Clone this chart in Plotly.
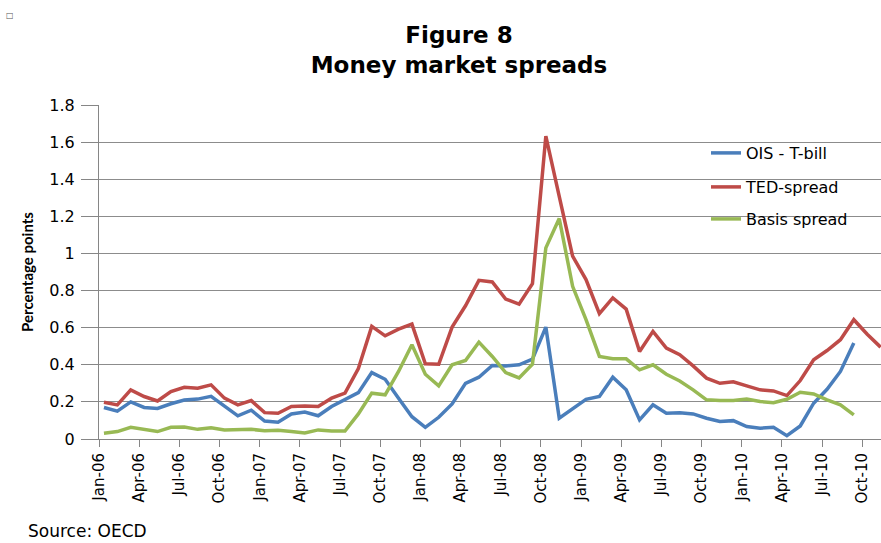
import plotly.graph_objects as go

# Monthly data, Jan-06 .. Nov-10
months = [f"{m}-{y:02d}" for y in range(6, 11)
          for m in ["Jan", "Feb", "Mar", "Apr", "May", "Jun",
                    "Jul", "Aug", "Sep", "Oct", "Nov", "Dec"]][:59]

ois_tbill = [0.17, 0.15, 0.20, 0.17, 0.165, 0.19, 0.21, 0.215, 0.23, 0.175,
             0.125, 0.155, 0.097, 0.09, 0.135, 0.145, 0.125, 0.175, 0.21, 0.25,
             0.358, 0.322, 0.22, 0.12, 0.063, 0.117, 0.189, 0.30, 0.333, 0.396,
             0.394, 0.40, 0.43, 0.603, 0.112, 0.162, 0.214, 0.229, 0.333, 0.265,
             0.103, 0.184, 0.139, 0.142, 0.135, 0.112, 0.094, 0.099, 0.067, 0.058,
             0.063, 0.018, 0.07, 0.193, 0.268, 0.364, 0.517, None, None]

ted_spread = [0.198, 0.184, 0.265, 0.229, 0.205, 0.256, 0.279, 0.274, 0.292, 0.22,
              0.184, 0.207, 0.142, 0.139, 0.175, 0.178, 0.175, 0.22, 0.247, 0.38,
              0.607, 0.556, 0.592, 0.619, 0.405, 0.403, 0.603, 0.718, 0.855, 0.846,
              0.754, 0.727, 0.837, 1.632, 1.308, 0.985, 0.859, 0.675, 0.76, 0.70,
              0.472, 0.58, 0.49, 0.454, 0.394, 0.328, 0.30, 0.308, 0.286, 0.265,
              0.259, 0.234, 0.315, 0.427, 0.477, 0.535, 0.643, 0.565, 0.495]

basis_spread = [0.031, 0.04, 0.063, 0.052, 0.04, 0.063, 0.065, 0.052, 0.061, 0.049,
                0.052, 0.052, 0.045, 0.047, 0.041, 0.032, 0.049, 0.043, 0.043, 0.135,
                0.247, 0.238, 0.364, 0.508, 0.349, 0.286, 0.40, 0.423, 0.522, 0.445,
                0.358, 0.329, 0.403, 1.03, 1.188, 0.823, 0.643, 0.445, 0.432, 0.432,
                0.373, 0.40, 0.349, 0.313, 0.265, 0.211, 0.207, 0.207, 0.216, 0.202,
                0.196, 0.214, 0.252, 0.243, 0.211, 0.184, 0.13, None, None]

tick_labels = months[0:58:3]

# points sit a little right of the month tick, as in the Excel chart
x = [i + 0.37 for i in range(len(months))]
tick_pos = list(range(0, 58, 3))

W, H = 881, 543
L, T, B = 99, 105, 104
PW, PH = W - L, H - T - B


def px(xp):
    return (xp - L) / PW


def py(yp):
    return (H - B - yp) / PH


fig = go.Figure()

series = [
    ("OIS - T-bill", ois_tbill, "#4A7EBB", "legend", 153),
    ("TED-spread", ted_spread, "#BE4B48", "legend2", 187),
    ("Basis spread", basis_spread, "#98B954", "legend3", 219),
]

for name, vals, color, leg, _ in series:
    fig.add_trace(go.Scatter(
        x=x, y=vals, mode="lines", name=name, legend=leg,
        line=dict(color=color, width=3.5),
        connectgaps=False,
    ))

legend_style = dict(
    xanchor="left", yanchor="middle", x=px(706),
    bgcolor="rgba(0,0,0,0)",
    font=dict(family="DejaVu Sans", size=16, color="#000000"),
)
fig.update_layout(
    legend=dict(y=py(series[0][4]), **legend_style),
    legend2=dict(y=py(series[1][4]), **legend_style),
    legend3=dict(y=py(series[2][4]), **legend_style),
)

fig.update_layout(
    width=W, height=H,
    margin=dict(l=L, r=0, t=T, b=B, autoexpand=False),
    paper_bgcolor="white",
    plot_bgcolor="white",
    showlegend=True,
    title=dict(
        text="<b>Figure 8<br>Money market spreads</b>",
        font=dict(family="DejaVu Sans", size=23, color="#000000"),
        xref="paper", x=px(459), xanchor="center",
        yref="container", y=1 - 43 / H, yanchor="middle",
    ),
)

fig.update_xaxes(
    range=[0, 58.4],
    tickmode="array", tickvals=tick_pos, ticktext=tick_labels,
    tickangle=-90,
    ticks="outside", ticklen=7, tickcolor="#868686",
    showline=True, linecolor="#868686", linewidth=1,
    showgrid=False, zeroline=False, automargin=False,
    tickfont=dict(family="DejaVu Sans", size=15, color="#000000"),
)

fig.update_yaxes(
    range=[0, 1.8],
    tickvals=[0, 0.2, 0.4, 0.6, 0.8, 1.0, 1.2, 1.4, 1.6, 1.8],
    ticks="outside", ticklen=17, tickcolor="#868686",
    ticklabelstandoff=3,
    showline=True, linecolor="#868686", linewidth=1,
    showgrid=True, gridcolor="#8C8C8C", gridwidth=1,
    zeroline=False, automargin=False,
    tickfont=dict(family="DejaVu Sans", size=16, color="#000000"),
    title=dict(text="<b>Percentage points</b>",
               font=dict(family="Lato", size=15, color="#000000"),
               standoff=12),
)

fig.add_annotation(
    text="Source: OECD", xref="paper", yref="paper",
    x=px(26), y=py(531),
    xanchor="left", yanchor="middle", showarrow=False,
    font=dict(family="DejaVu Sans", size=17, color="#000000"),
)
fig.add_annotation(
    text="□", xref="paper", yref="paper",
    x=px(10), y=py(15),
    xanchor="center", yanchor="middle", showarrow=False,
    font=dict(family="DejaVu Sans", size=8, color="#555555"),
)

# drop the default 8px body margin so the figure fills the window exactly
fig.write_html("out.html", config={"displayModeBar": False},
               post_script="document.body.style.margin = '0';")
